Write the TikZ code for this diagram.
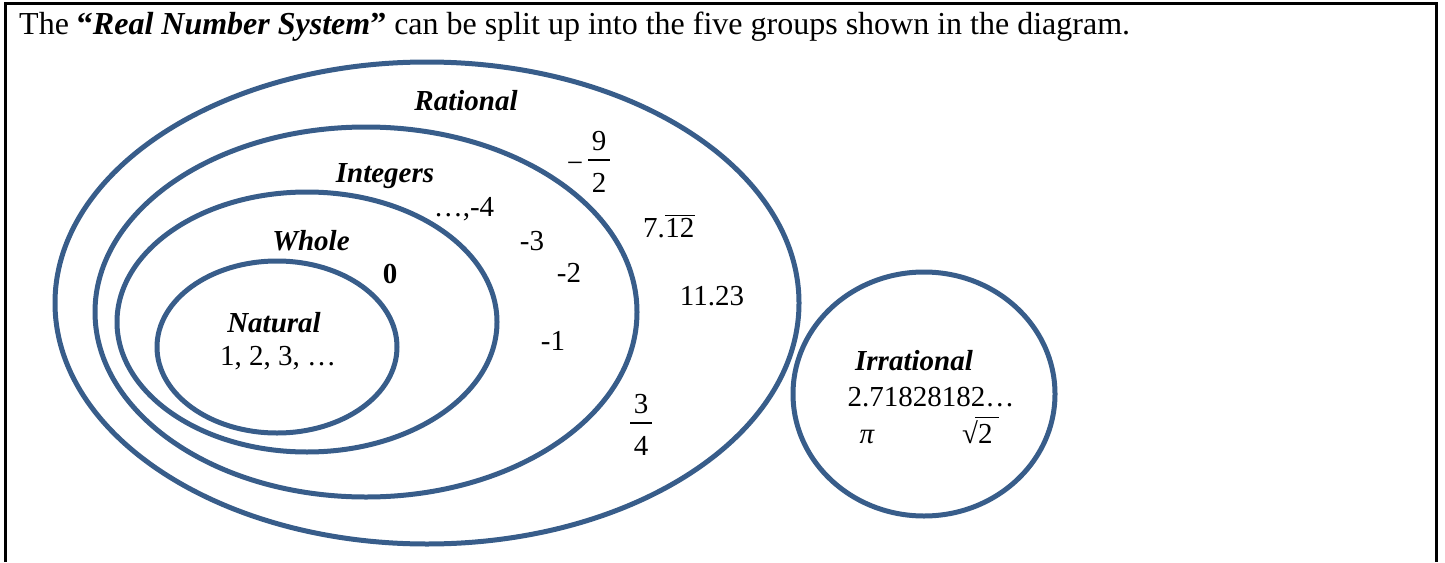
\documentclass[tikz,border=0pt]{standalone}
\usepackage{fontspec}
\setmainfont{Liberation Serif}
\definecolor{venn}{RGB}{56,93,138}
\tikzset{
  setline/.style={draw=venn, line width=5pt},
  frameline/.style={draw=black, line width=3pt},
  setlabel/.style={font=\fontsize{29}{34}\selectfont\bfseries\itshape, anchor=base, inner sep=0pt},
  numlabel/.style={font=\fontsize{29}{34}\selectfont, anchor=base, inner sep=0pt},
  barline/.style={draw=black, line width=1.3pt},
  titletext/.style={font=\fontsize{32}{38}\selectfont, anchor=base west, inner sep=0pt}
}
\begin{document}
\begin{tikzpicture}[x=1pt,y=-1pt]
\useasboundingbox (0,0) rectangle (1445,562);
% frame
\draw[frameline] (5.5,562) -- (5.5,3.5) -- (1436,3.5) -- (1436,562);
% title
\node[titletext] (title) at (19,34) {The \textbf{``\textit{Real Number System}''} can be split up into the five groups shown in the diagram.};
% sets
\draw[setline] (427,303) ellipse [x radius=372, y radius=241];
\draw[setline] (366,312) ellipse [x radius=271, y radius=185];
\draw[setline] (307,322) ellipse [x radius=190, y radius=130];
\draw[setline] (277,347) ellipse [x radius=120, y radius=86];
\draw[setline] (924,394) ellipse [x radius=131, y radius=122];
% set names
\node[setlabel] (rational) at (466,110) {Rational};
\node[setlabel] (integers) at (385,182) {Integers};
\node[setlabel] (whole) at (311,250) {Whole};
\node[setlabel] (natural) at (274,332) {Natural};
\node[setlabel] (irrational) at (914,370) {Irrational};
% members
\node[numlabel] (nat) at (278,365) {1, 2, 3, \dots};
\node[numlabel] (zero) at (390,283) {\textbf{0}};
\node[numlabel] (m4) at (464,216) {\dots,-4};
\node[numlabel] (m3) at (532,250) {-3};
\node[numlabel] (m2) at (569,282) {-2};
\node[numlabel] (m1) at (553,350) {-1};
\node[numlabel, anchor=base west] (seven) at (643,237) {7.};
\node[numlabel, anchor=base west] (twelve) at (seven.base east) {12};
\draw[line width=1.3pt] (twelve.north west) ++(0,-2) coordinate (ovl) -- (ovl -| twelve.east);
\node[numlabel] (dec) at (712,305) {11.23};
% -9/2
\node[numlabel] (minus) at (575,172) {\char"2212};
\node[numlabel] (nine) at (599,150) {9};
\node[numlabel] (two) at (599,192) {2};
\coordinate (barl) at (588,160);
\coordinate (barr) at (610,160);
\draw[barline] (barl) -- (barr);
% 3/4
\node[numlabel] (three) at (641,413) {3};
\node[numlabel] (four) at (641,455) {4};
\coordinate (qbarl) at (630,423);
\coordinate (qbarr) at (652,423);
\draw[barline] (qbarl) -- (qbarr);
% irrational members
\node[numlabel] (e) at (931,406) {2.71828182\dots};
\node[numlabel] (pi) at (867,443) {\itshape\char"03C0};
\node[numlabel, anchor=base west] (rad) at (962,443) {\char"221A};
\node[numlabel, anchor=base west] (sqtwo) at (978,443) {2};
\coordinate (ovs) at (975,417.5);
\coordinate (ove) at (999,417.5);
\draw[line width=1.4pt] (ovs) -- (ove);
\end{tikzpicture}
\end{document}
